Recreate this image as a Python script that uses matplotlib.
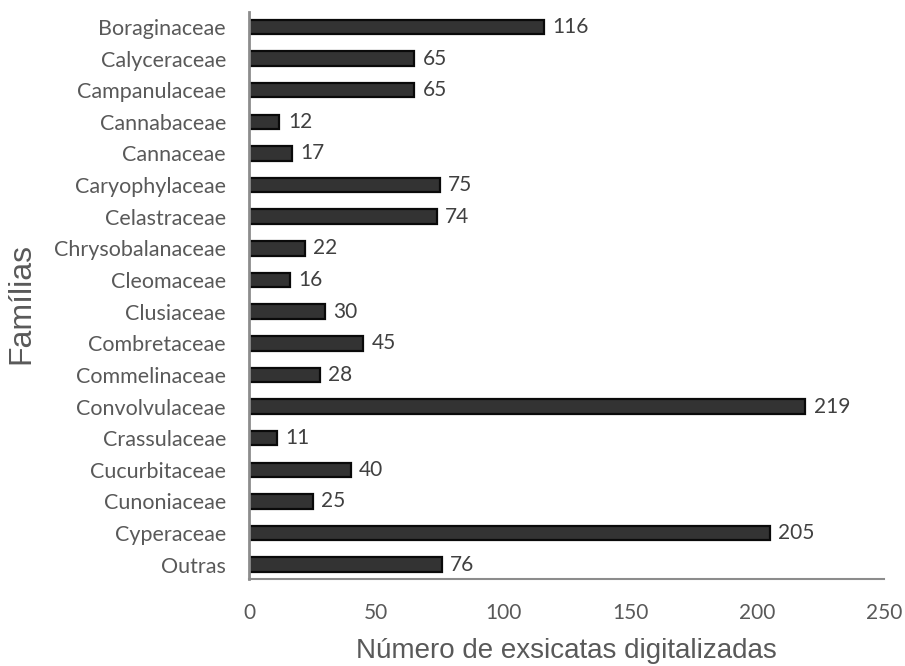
import matplotlib
matplotlib.use("Agg")
import matplotlib.pyplot as plt

familias = ["Boraginaceae", "Calyceraceae", "Campanulaceae", "Cannabaceae", "Cannaceae",
            "Caryophylaceae", "Celastraceae", "Chrysobalanaceae", "Cleomaceae", "Clusiaceae",
            "Combretaceae", "Commelinaceae", "Convolvulaceae", "Crassulaceae", "Cucurbitaceae",
            "Cunoniaceae", "Cyperaceae", "Outras"]
valores = [116, 65, 65, 12, 17, 75, 74, 22, 16, 30, 45, 28, 219, 11, 40, 25, 205, 76]
xticks = [0, 50, 100, 150, 200, 250]

fig = plt.figure(figsize=(9.05, 6.66), dpi=100)
ax = fig.add_axes([249/905, 87/666, (884-249)/905, (654-87)/666])

n = len(familias)
ypos = list(range(n - 1, -1, -1))
ax.barh(ypos, valores, height=0.46, color="#333333", edgecolor="#0a0a0a", linewidth=1.6)

for y, v in zip(ypos, valores):
    ax.annotate(str(v), xy=(v, y), xytext=(6, 0), textcoords="offset points",
                va="center", ha="left", fontsize=15, color="#404040", family="Lato")

ax.set_xlim(0, 250)
ax.set_ylim(-0.45, n - 0.53)
ax.set_yticks(ypos)
ax.set_yticklabels(familias, fontsize=15.5, color="#595959", family="Lato")
ax.set_xticks(xticks)
ax.set_xticklabels([str(t) for t in xticks], fontsize=15, color="#595959", family="Lato")
ax.tick_params(axis="both", length=0)
ax.tick_params(axis="y", pad=16.5)
ax.tick_params(axis="x", pad=17)

for s in ["top", "right"]:
    ax.spines[s].set_visible(False)
ax.spines["left"].set_color("#8c8c8c")
ax.spines["left"].set_linewidth(2)
ax.spines["bottom"].set_color("#8c8c8c")
ax.spines["bottom"].set_linewidth(1.5)

fig.text(566/905, 1 - 658/666, "Número de exsicatas digitalizadas", fontsize=20,
         color="#595959", family="Liberation Sans", ha="center", va="baseline")
fig.text(21/905, 1 - 303/666, "Famílias", rotation=90, fontsize=23, color="#595959",
         family="Liberation Sans", ha="center", va="center")

fig.savefig("out.png", dpi=100)
